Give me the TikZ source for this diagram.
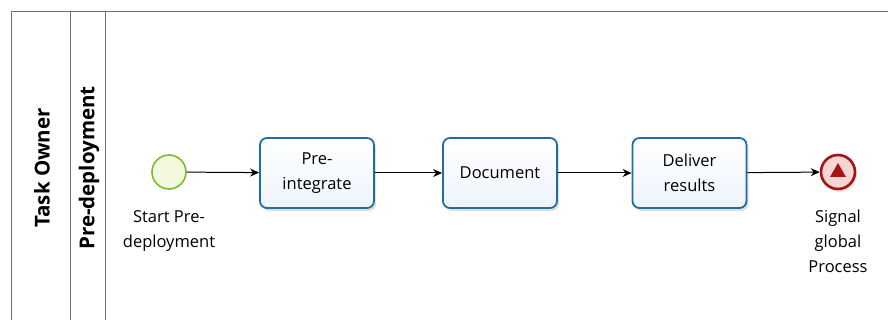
\documentclass[tikz,border=0pt]{standalone}
\usepackage{fontspec}
\setmainfont{Open Sans}
\usetikzlibrary{arrows.meta,shadows,positioning}
\definecolor{lanegray}{HTML}{707070}
\definecolor{taskblue}{HTML}{1F6E9E}
\definecolor{taskfill}{HTML}{EEF3FC}
\definecolor{startgreen}{HTML}{7DBA2F}
\definecolor{startfill}{HTML}{F2F9DC}
\definecolor{enddark}{HTML}{A31515}
\definecolor{endfill}{HTML}{F6D5D5}
\tikzset{
  lane/.style={draw=lanegray, line width=0.9pt},
  task/.style={draw=taskblue, line width=1.8pt, rounded corners=7pt,
    top color=white, bottom color=taskfill, minimum width=114pt, minimum height=70pt,
    align=center, font=\fontsize{16.5}{25}\selectfont,
    drop shadow={shadow xshift=2pt, shadow yshift=-3pt, opacity=0.25, fill=gray}},
  startev/.style={circle, draw=startgreen, line width=1.6pt, fill=startfill, minimum size=34pt, inner sep=0pt},
  endev/.style={circle, draw=enddark, line width=2.6pt, fill=endfill, minimum size=34pt, inner sep=0pt,
    drop shadow={shadow xshift=2pt, shadow yshift=-3pt, opacity=0.2, fill=gray}},
  evlabel/.style={align=center, font=\fontsize{16.5}{25}\selectfont, inner sep=0pt},
  flow/.style={-{Stealth[length=9pt,width=8pt]}, line width=1pt, black},
  lanetitle/.style={rotate=90, font=\bfseries\fontsize{20.5}{24}\selectfont}
}
\begin{document}
\begin{tikzpicture}[x=1pt,y=-1pt]
\useasboundingbox (0,0) rectangle (888,320);
% pool and lane frame
\draw[lane] (11,320) -- (11,11) -- (888,11);
\draw[lane] (70,11) -- (70,320);
\draw[lane] (105,11) -- (105,320);
\node[lanetitle] (pool) at (42,168) {Task Owner};
\node[lanetitle] (lanename) at (89,168) {Pre-deployment};
% flow elements
\node[startev] (start) at (169,172) {};
\node[evlabel, anchor=north] (startlbl) at (169,210) {Start Pre-\\deployment};
\node[task] (t1) at (317,173) {Pre-\\integrate};
\node[task] (t2) at (500,173) {Document};
\node[task] (t3) at (689.5,173) {Deliver\\results};
\node[endev] (end) at (838,172) {};
\fill[enddark] ([shift={(0,-9)}]end.center) -- ([shift={(-8,5)}]end.center) -- ([shift={(8,5)}]end.center) -- cycle;
\node[evlabel, anchor=north] (endlbl) at (838,210) {Signal\\global\\Process};
% sequence flows
\draw[flow] (start) -- (t1);
\draw[flow] (t1) -- (t2);
\draw[flow] (t2) -- (t3);
\draw[flow] (t3) -- (end);
\end{tikzpicture}
\end{document}
